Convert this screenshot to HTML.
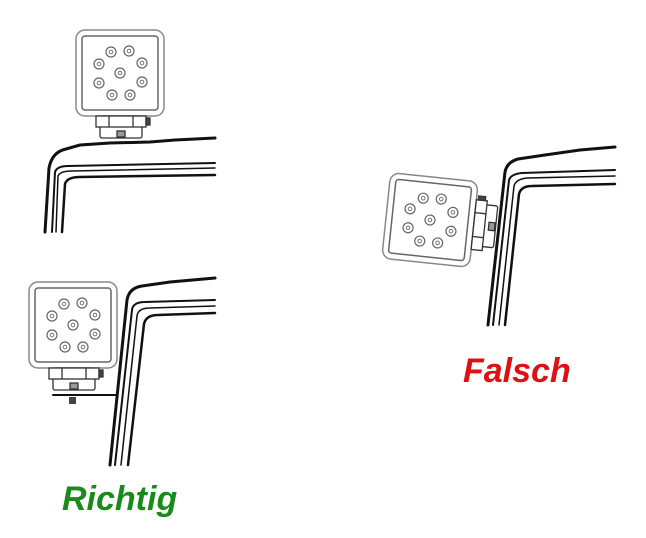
<!DOCTYPE html>
<html><head><style>
html,body{margin:0;padding:0;background:#fff;width:646px;height:538px;overflow:hidden}
svg{position:absolute;left:0;top:0}
.t{position:absolute;font-family:"Liberation Sans",sans-serif;font-weight:bold;font-style:italic;font-size:34px}
</style></head><body>
<svg width="646" height="538" viewBox="0 0 646 538">
<defs>
<g id="led"><circle r="5" fill="none" stroke="#666" stroke-width="1.2"/><circle r="1.8" fill="none" stroke="#777" stroke-width="1"/></g>
<g id="lamp">
<rect x="-44" y="-43" width="88" height="86" rx="9" fill="#fff" stroke="#888" stroke-width="1.5"/>
<rect x="-38" y="-37" width="76" height="74" rx="3" fill="#fff" stroke="#666" stroke-width="1.5"/>
<use href="#led" x="-9" y="-21"/><use href="#led" x="9" y="-22"/>
<use href="#led" x="-21" y="-9"/><use href="#led" x="22" y="-10"/>
<use href="#led" x="0" y="0"/>
<use href="#led" x="-21" y="10"/><use href="#led" x="22" y="9"/>
<use href="#led" x="-8" y="22"/><use href="#led" x="10" y="22"/>
</g>
<g id="mount" fill="#fff" stroke="#333" stroke-width="1.3">
<rect x="-21" y="0" width="42" height="22" rx="2"/>
<rect x="-25" y="0" width="50" height="11"/>
<line x1="-12" y1="0" x2="-12" y2="11"/><line x1="12" y1="0" x2="12" y2="11"/>
<rect x="25" y="2" width="4" height="7" fill="#444"/>
<rect x="-4" y="15" width="8" height="6" fill="#999"/>
</g>
</defs>
<g fill="none" stroke="#111" stroke-linecap="round">
<path d="M45,232 L49,168 Q52,152 66,149 L80,145 L110,143 L150,142 L175,140 L215,138" stroke-width="3"/>
<path d="M52,232 L55,172 Q57,166 68,166 L215,163" stroke-width="2"/>
<path d="M56,232 L58,176 Q60,171 72,171 L215,168" stroke-width="1.5"/>
<path d="M62,232 L65,184 Q67,177 80,177 L215,175" stroke-width="2.5"/>
<path d="M110,465 L127,300 Q129,288 142,286 L170,282 L215,278" stroke-width="3"/>
<path d="M115,465 L132,310 Q133,302 145,302 L215,300" stroke-width="2"/>
<path d="M121,465 L137,316 Q138,308 150,308 L215,306" stroke-width="1.5"/>
<path d="M128,465 L144,324 Q146,315 158,315 L215,313" stroke-width="2.5"/>
<line x1="53" y1="395" x2="117" y2="395" stroke-width="2"/>
<line x1="117" y1="395" x2="118" y2="385" stroke-width="1.5"/>
<path d="M488,325 L505,172 Q507,162 518,159 L545,155 L580,150 L615,147" stroke-width="3"/>
<path d="M493,325 L509,180 Q511,174 522,173 L615,170" stroke-width="2"/>
<path d="M499,325 L514,186 Q516,179 527,178 L615,176" stroke-width="1.5"/>
<path d="M505,325 L519,194 Q521,186 532,186 L615,184" stroke-width="2.5"/>
</g>
<use href="#lamp" x="120" y="73"/>
<use href="#mount" x="121" y="116"/>
<use href="#lamp" x="73" y="325"/>
<use href="#mount" x="74" y="368"/>
<rect x="69" y="397" width="7" height="7" fill="#444"/>
<g transform="translate(430,220) rotate(6)">
<use href="#lamp"/>
<g transform="translate(44,0) rotate(-90)"><use href="#mount"/></g>
</g>
</svg>
<div class="t" style="left:62px;top:480px;color:#1a8a1a">Richtig</div>
<div class="t" style="left:463px;top:352px;color:#dd1111">Falsch</div>
</body></html>
